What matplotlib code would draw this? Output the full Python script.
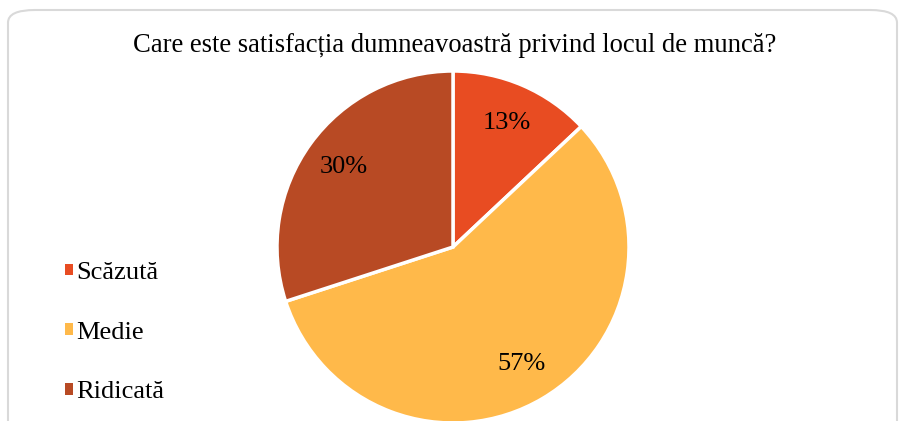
import matplotlib
matplotlib.use("Agg")
import matplotlib.pyplot as plt
from matplotlib.patches import FancyBboxPatch

categories = ["Scăzută", "Medie", "Ridicată"]
values = [13, 57, 30]
colors = ["#E84C22", "#FFB94A", "#B84A24"]
title = "Care este satisfacția dumneavoastră privind locul de muncă?"

W, H = 899, 421
fig = plt.figure(figsize=(W / 100, H / 100), dpi=100)
plt.rcParams['font.family'] = ['Liberation Serif', 'DejaVu Serif']

# rounded border
border = FancyBboxPatch((8 / W, -40 / H), (889) / W, (411 + 40) / H,
                        boxstyle="round,pad=0,rounding_size=0.03",
                        transform=fig.transFigure, fill=False,
                        edgecolor="#D9D9D9", linewidth=1.5)
fig.patches.append(border)

fig.text(455 / W, 1 - 45 / H, title, ha="center", va="center", fontsize=19.2)

cx, cy, r = 453, 247, 176
ax = fig.add_axes([(cx - r) / W, (H - cy - r) / H, 2 * r / W, 2 * r / H])
wedges, texts, autotexts = ax.pie(values, colors=colors, startangle=90, counterclock=False,
                                  autopct=lambda p: f"{p:.0f}%", pctdistance=0.77,
                                  wedgeprops=dict(edgecolor="white", linewidth=2.5),
                                  textprops=dict(fontsize=19, color="black"))
ax.set_xlim(-1, 1)
ax.set_ylim(-1, 1)
ax.set_aspect("equal")
ax.axis("off")

leg = fig.legend(wedges, categories, loc="upper left", bbox_to_anchor=(65 / W, 1 - 262 / H),
                 frameon=False, fontsize=19, handlelength=0.3, handleheight=0.3,
                 labelspacing=1.43, handletextpad=0.12, borderaxespad=0, borderpad=0)
for h in leg.legend_handles:
    h.set_edgecolor("none")

fig.savefig("out.png", dpi=100)
